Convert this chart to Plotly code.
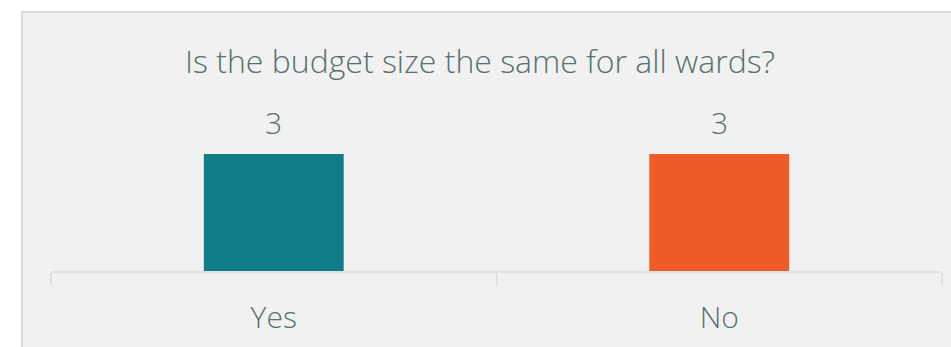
import plotly.graph_objects as go

categories = ["Yes", "No"]
values = [3, 3]
colors = ["#117D87", "#F05A28"]
title_text = "Is the budget size the same for all wards?"

W, H = 951, 347
axis_y_px = 271      # pixel row of the category axis line
bar_top_px = 154     # pixel row of the top of value 3
x0_px, x1_px = 51, 942

text_color = "#5A706E"
font_family = "Open Sans"

fig = go.Figure()
fig.add_trace(go.Bar(
    x=categories, y=values,
    marker=dict(color=colors, line=dict(width=0)),
    hoverinfo="skip",
))

# value labels from data
for c, v in zip(categories, values):
    fig.add_annotation(
        x=c, y=v, text=str(v), showarrow=False,
        xref="x", yref="y", yanchor="bottom", yshift=9,
        font=dict(family=font_family, size=30, color=text_color, weight=300),
    )

ymax = max(values)
fig.update_layout(
    width=W, height=H,
    margin=dict(l=0, r=0, t=0, b=0),
    paper_bgcolor="white",
    plot_bgcolor="rgba(0,0,0,0)",
    showlegend=False,
    bargap=0.686,
    font=dict(family=font_family, color=text_color, weight=300),
    title=dict(
        text=title_text,
        x=480 / W, xanchor="center",
        y=1 - 62 / H, yanchor="middle",
        font=dict(family=font_family, size=32, color=text_color, weight=300),
    ),
    shapes=[dict(
        type="rect", xref="paper", yref="paper", layer="below",
        x0=22 / W, x1=1.05, y0=-0.05, y1=1 - 12 / H,
        fillcolor="#F1F1F1", line=dict(color="#D9D9D9", width=2),
    )],
    xaxis=dict(
        domain=[x0_px / W, x1_px / W],
        range=[-0.5, 1.5],
        showline=True, linecolor="#DCE2E1", linewidth=2,
        ticks="outside", tickson="boundaries", ticklen=12,
        tickcolor="#DCE2E1", tickwidth=2,
        tickfont=dict(family=font_family, size=30, color=text_color, weight=300),
        ticklabelstandoff=19,
        showgrid=False, zeroline=False,
    ),
    yaxis=dict(
        domain=[1 - axis_y_px / H, 1 - bar_top_px / H],
        range=[0, ymax],
        visible=False, showgrid=False, zeroline=False,
    ),
)

fig.write_html("out.html")
